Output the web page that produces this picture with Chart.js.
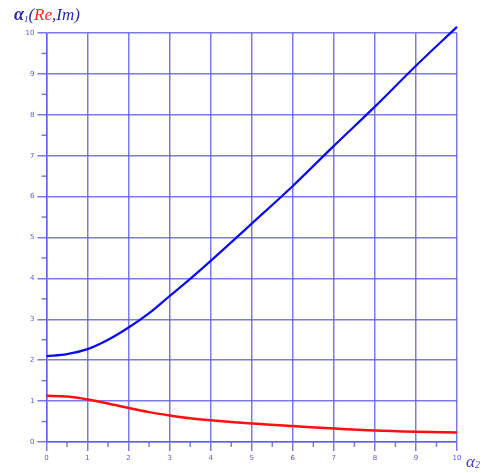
<!DOCTYPE html>
<html>
<head>
<meta charset="utf-8">
<script src="https://cdn.jsdelivr.net/npm/chart.js@4"></script>
<style>
  html, body { margin: 0; padding: 0; background: #fff; }
  #wrap { width: 487px; height: 473px; }
</style>
</head>
<body>
<div id="wrap"><canvas id="canvas1" width="487" height="473"></canvas></div>
<script>
// values
var alpha2 = [0, 0.5, 1, 1.5, 2, 2.5, 3, 3.5, 4, 5, 6, 7, 8, 9, 10];
var reVals = [2.10, 2.15, 2.27, 2.50, 2.80, 3.15, 3.57, 3.99, 4.43, 5.34, 6.26, 7.24, 8.20, 9.20, 10.15];
var imVals = [1.13, 1.11, 1.04, 0.94, 0.83, 0.73, 0.65, 0.58, 0.53, 0.45, 0.39, 0.33, 0.28, 0.25, 0.23];
var xTicks = [0, 1, 2, 3, 4, 5, 6, 7, 8, 9, 10];
var yTicks = [0, 1, 2, 3, 4, 5, 6, 7, 8, 9, 10];

var gridColor = "rgba(90, 90, 225, 0.8)";
var labelColor = "#5b5bd0";

function pts(ys) {
  return alpha2.map(function (x, i) { return {x: x, y: ys[i]}; });
}

// short ticks at the half steps + the axis captions
var extras = {
  id: "extras",
  afterDraw: function (chart) {
    var ctx = chart.ctx, xs = chart.scales.x, ys = chart.scales.y;
    var a = chart.chartArea;
    ctx.save();
    ctx.strokeStyle = gridColor;
    ctx.lineWidth = 1.5;
    for (var v = 0.5; v < 10; v += 1) {
      var px = xs.getPixelForValue(v);
      ctx.beginPath(); ctx.moveTo(px, a.bottom); ctx.lineTo(px, a.bottom + 5); ctx.stroke();
      var py = ys.getPixelForValue(v);
      ctx.beginPath(); ctx.moveTo(a.left, py); ctx.lineTo(a.left - 5, py); ctx.stroke();
    }
    // y caption
    ctx.textBaseline = "alphabetic";
    ctx.textAlign = "left";
    var x = 14, y = 20;
    ctx.font = 'bold italic 18px "Liberation Serif"';
    ctx.fillStyle = "#2a2ab0";
    ctx.fillText("\u03b1", x, y); x += ctx.measureText("\u03b1").width;
    ctx.font = 'italic 9px "Liberation Serif"';
    ctx.fillText("1", x, y + 2); x += ctx.measureText("1").width;
    ctx.font = 'italic 17px "Liberation Serif"';
    ctx.fillText("(", x, y); x += ctx.measureText("(").width;
    ctx.fillStyle = "#ff2222";
    ctx.fillText("Re", x, y); x += ctx.measureText("Re").width;
    ctx.fillStyle = "#2a2ab0";
    ctx.fillText(",Im)", x, y);
    // x caption
    x = 466; y = 467;
    ctx.font = 'italic 17px "Liberation Serif"';
    ctx.fillStyle = "#3a3ad0";
    ctx.fillText("\u03b1", x, y); x += ctx.measureText("\u03b1").width;
    ctx.font = 'italic 10px "Liberation Serif"';
    ctx.fillText("2", x, y + 1);
    ctx.restore();
  }
};

new Chart(document.getElementById("canvas1"), {
  type: "scatter",
  data: {
    datasets: [{
      label: "Re",
      data: pts(reVals),
      showLine: true,
      borderColor: "#0a0af0",
      borderWidth: 2.2,
      pointRadius: 0,
      cubicInterpolationMode: "monotone",
      clip: false
    }, {
      label: "Im",
      data: pts(imVals),
      showLine: true,
      borderColor: "#ff1010",
      borderWidth: 2.5,
      pointRadius: 0,
      cubicInterpolationMode: "monotone",
      clip: false
    }]
  },
  options: {
    responsive: false,
    animation: false,
    layout: { padding: { top: 33, right: 30, left: 0, bottom: 0 } },
    plugins: { legend: { display: false }, tooltip: { enabled: false } },
    scales: {
      x: {
        type: "linear", min: 0, max: 10,
        afterBuildTicks: function (s) { s.ticks = xTicks.map(function (v) { return {value: v}; }); },
        afterFit: function (s) { s.height = 31; },
        border: { color: gridColor, width: 1.5 },
        grid: { color: gridColor, lineWidth: 1.5, tickLength: 9, tickColor: gridColor },
        ticks: { color: labelColor, font: { size: 7, family: "DejaVu Sans" }, padding: 3, maxRotation: 0 }
      },
      y: {
        type: "linear", min: 0, max: 10,
        afterBuildTicks: function (s) { s.ticks = yTicks.map(function (v) { return {value: v}; }); },
        afterFit: function (s) { s.width = 46.5; },
        border: { color: gridColor, width: 1.5 },
        grid: { color: gridColor, lineWidth: 1.5, tickLength: 9, tickColor: gridColor },
        ticks: { color: labelColor, font: { size: 7, family: "DejaVu Sans" }, padding: 3 }
      }
    }
  },
  plugins: [extras]
});
</script>
</body>
</html>
